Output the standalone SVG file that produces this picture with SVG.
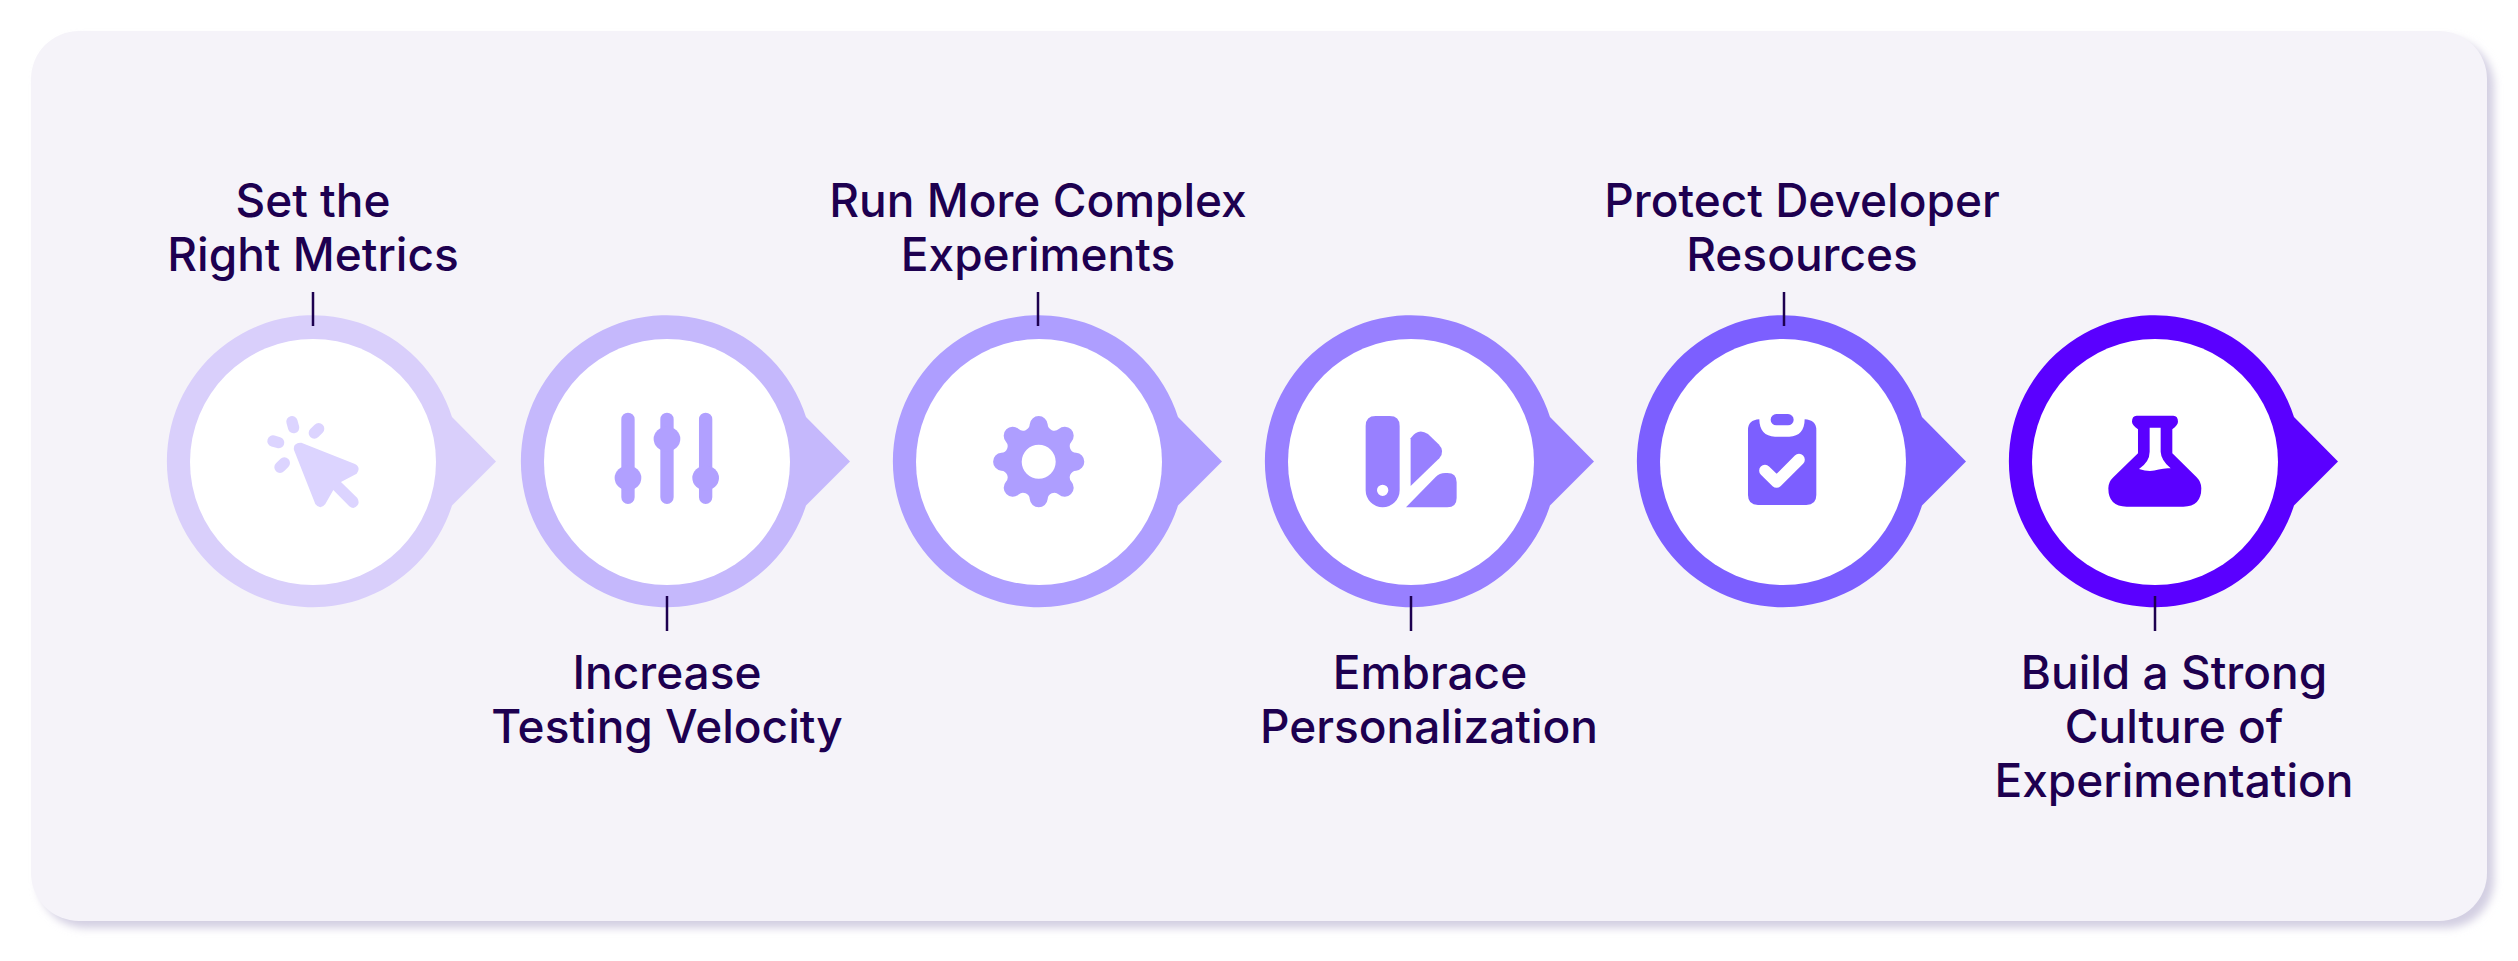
<svg xmlns="http://www.w3.org/2000/svg" width="2518" height="961" viewBox="0 0 2518 961">
<defs>
<filter id="sh" x="-5%" y="-5%" width="110%" height="115%"><feGaussianBlur stdDeviation="4"/></filter>
<path id="bubble" d="M452 417 L496 461.500 L452 505.500 A146 146 0 1 1 452 417 Z" transform="translate(-313 -462)"/>
</defs>
<style>
text{font-family:Inter,"Liberation Sans",sans-serif;font-size:46px;font-weight:500;fill:#1d0050;text-anchor:middle}
.tick{stroke:#1d0050;stroke-width:2.500}
.inner{fill:#fff}
</style>
<rect x="38" y="38" width="2456" height="890" rx="48" fill="#d3cfe2" filter="url(#sh)"/>
<rect x="31" y="31" width="2456" height="890" rx="48" fill="#f5f3f9"/>
<g id="node-1">
<use href="#bubble" x="313" y="462" fill="#d9cffb"/>
<circle class="inner" cx="313" cy="462" r="123"/>
<g transform="translate(140 280) scale(.3333)" fill="#dcd4ff">
<path d="M484 488 L645 552 Q664 563 650 581 L603 606 L652 654 Q664 675 640 684 Q634 684 628 679 L580 630 L556 672 Q541 692 526 672 L462 510 Q458 488 484 488 Z"/>
<g stroke="#dcd4ff" stroke-width="34" stroke-linecap="round"><path d="M456 425 L461 443M523 459 L536 446M399 483 L416 488M420 562 L433 549"/></g>
</g>
<text x="313" y="217">Set the</text>
<text x="313" y="271">Right Metrics</text>
</g>
<g id="node-2">
<use href="#bubble" x="667" y="462" fill="#c5b8fc"/>
<circle class="inner" cx="667" cy="462" r="123"/>
<g transform="translate(500 280) scale(.3333)" fill="#b1a0ff">
<path stroke="#b1a0ff" stroke-width="40" stroke-linecap="round" d="M384 418V652M501 418V652M617 418V652"/>
<ellipse cx="384" cy="594" rx="40" ry="37"/><ellipse cx="501" cy="477" rx="40" ry="37"/><ellipse cx="617" cy="594" rx="40" ry="37"/>
</g>
<text x="667" y="689">Increase</text>
<text x="667" y="743">Testing Velocity</text>
</g>
<g id="node-3">
<use href="#bubble" x="1039" y="462" fill="#ae9eff"/>
<circle class="inner" cx="1039" cy="462" r="123"/>
<path transform="translate(1038.700 461.700) scale(.3333)" fill="#ae9eff" fill-rule="evenodd" d="M-26.900 -112.100A27 27 0 0 1 26.900 -112.100A20 20 0 0 0 60.200 -98.300A27 27 0 0 1 98.300 -60.200A20 20 0 0 0 112.100 -26.900A27 27 0 0 1 112.100 26.900A20 20 0 0 0 98.300 60.200A27 27 0 0 1 60.200 98.300A20 20 0 0 0 26.900 112.100A27 27 0 0 1 -26.900 112.100A20 20 0 0 0 -60.200 98.300A27 27 0 0 1 -98.300 60.200A20 20 0 0 0 -112.100 26.900A27 27 0 0 1 -112.100 -26.900A20 20 0 0 0 -98.300 -60.200A27 27 0 0 1 -60.200 -98.300A20 20 0 0 0 -26.900 -112.100ZM51 0A51 51 0 1 0 -51 0A51 51 0 1 0 51 0Z"/>
<text x="1038" y="217">Run More Complex</text>
<text x="1038" y="271">Experiments</text>
</g>
<g id="node-4">
<use href="#bubble" x="1411" y="462" fill="#9880ff"/>
<circle class="inner" cx="1411" cy="462" r="123"/>
<g transform="translate(1260 380) scale(.3333)" fill="#9880ff">
<path fill-rule="evenodd" d="M347 108H389Q419 108 419 138V331A51 51 0 0 1 317 331V138Q317 108 347 108ZM385 331A17 17 0 1 0 351 331A17 17 0 1 0 385 331Z"/>
<path d="M452 175 Q474 142 504 162 L536 193 Q556 214 538 235 L452 318Z"/>
<path d="M438 382 L527 291 Q538 279 556 279 H562 Q590 279 590 307 V354 Q590 382 562 382Z"/>
</g>
<text x="1430" y="689">Embrace</text>
<text x="1429" y="743">Personalization</text>
</g>
<g id="node-5">
<use href="#bubble" x="1783" y="462" fill="#7c5fff"/>
<circle class="inner" cx="1783" cy="462" r="123"/>
<g transform="translate(1680 380) scale(.3333)" fill="#7c5fff">
<rect x="272" y="102" width="69" height="34" rx="17"/>
<path d="M238 118C238 150 255 170 285 170H328C358 170 374 150 374 118Q409 120 409 150V345Q409 375 379 375H234Q204 375 204 345V150Q204 120 238 118Z"/>
<path d="M255 272L290 306L357 239" fill="none" stroke="#fff" stroke-width="35" stroke-linecap="round" stroke-linejoin="round"/>
</g>
<text x="1802" y="217">Protect Developer</text>
<text x="1802" y="271">Resources</text>
</g>
<g id="node-6">
<use href="#bubble" x="2155" y="462" fill="#5a00ff"/>
<circle class="inner" cx="2155" cy="462" r="123"/>
<path transform="translate(2050 380) scale(.3333)" fill="#5a00ff" fill-rule="evenodd" d="M260 107H370Q384 107 384 125Q384 135 367 148V220L440 292Q454 306 454 325Q454 380 400 380H230Q175 380 175 325Q175 306 190 292L264 220V148Q246 135 246 125Q246 107 260 107ZM299 143V215Q299 245 267 267Q285 273 300 273C320 272 340 262 362 265Q333 240 332 215V143Z"/>
<text x="2174" y="689">Build a Strong</text>
<text x="2174" y="743">Culture of</text>
<text x="2174" y="797">Experimentation</text>
</g>
<g id="connectors">
<path class="tick" d="M313 292V326M667 596V631M1038 292V326M1411 596V631M1784 292V326M2155 596V631"/>
</g>
</svg>
